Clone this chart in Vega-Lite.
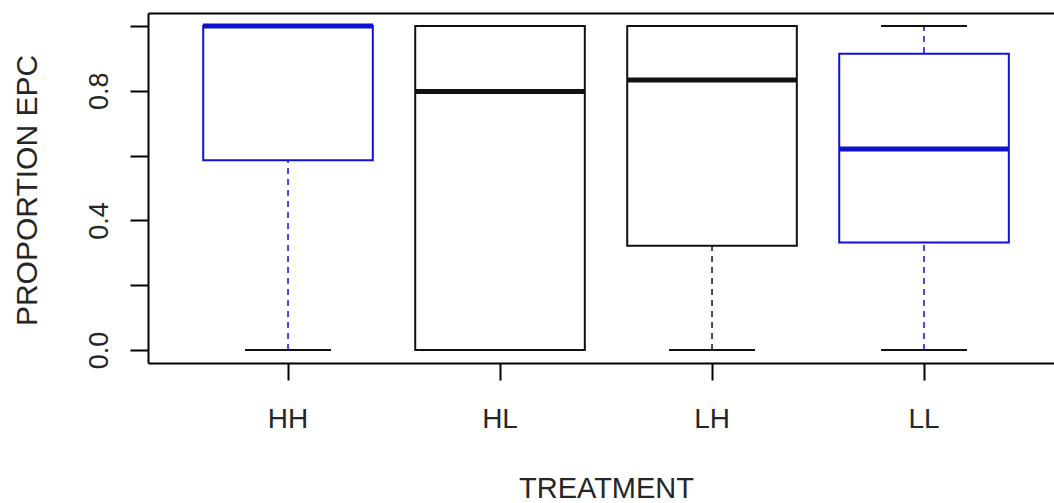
{
  "$schema": "https://vega.github.io/schema/vega-lite/v6.json",
  "width": 906,
  "height": 350,
  "autosize": {"type": "none"},
  "padding": {"left": 148, "top": 13, "right": 0, "bottom": 140},
  "background": "white",
  "data": {
    "values": [
      {"TREATMENT": "HH", "lo": 0, "q1": 0.586, "med": 1.0, "q3": 1.0, "hi": 1.0},
      {"TREATMENT": "HL", "lo": 0, "q1": 0.0, "med": 0.798, "q3": 1.0, "hi": 1.0},
      {"TREATMENT": "LH", "lo": 0, "q1": 0.322, "med": 0.833, "q3": 1.0, "hi": 1.0},
      {"TREATMENT": "LL", "lo": 0, "q1": 0.332, "med": 0.62, "q3": 0.914, "hi": 1.0}
    ]
  },
  "config": {
    "view": {"stroke": null},
    "font": "Liberation Sans",
    "tick": {"opacity": 1},
    "axis": {
      "grid": false,
      "domainColor": "black",
      "domainWidth": 2,
      "tickColor": "black",
      "tickWidth": 2,
      "labelColor": "#262626",
      "titleColor": "#262626",
      "titleFontWeight": "normal"
    }
  },
  "resolve": {"axis": {"x": "independent"}},
  "layer": [
    {
      "mark": {"type": "rule", "strokeDash": [6, 5], "strokeWidth": 1.5},
      "encoding": {
        "x": {
          "field": "TREATMENT",
          "type": "nominal",
          "sort": ["HH", "HL", "LH", "LL"],
          "scale": {"type": "band", "paddingInner": 0.2, "paddingOuter": 0.2368, "align": 0.55},
          "axis": {
            "orient": "bottom",
            "title": "TREATMENT",
            "labelFontSize": 28,
            "labelAngle": 0,
            "labelBaseline": "alphabetic",
            "tickSize": 17,
            "labelPadding": 47,
            "titleFontSize": 29,
            "titleX": 458,
            "titleY": 134,
            "titleAlign": "center",
            "titleBaseline": "alphabetic"
          }
        },
        "y": {
          "field": "lo",
          "type": "quantitative",
          "scale": {"domain": [-0.04, 1.04], "nice": false, "zero": false},
          "axis": {
            "title": "PROPORTION EPC",
            "values": [0, 0.2, 0.4, 0.6, 0.8, 1.0],
            "format": ".1f",
            "labelExpr": "indexof(['0.0','0.4','0.8'], datum.label) >= 0 ? datum.label : ''",
            "tickSize": 18,
            "labelAngle": -90,
            "labelAlign": "center",
            "labelBaseline": "alphabetic",
            "labelPadding": 23,
            "labelFontSize": 27,
            "titleFontSize": 30,
            "titleAngle": -90,
            "titleX": -112,
            "titleY": 177,
            "titleAlign": "center",
            "titleBaseline": "alphabetic"
          }
        },
        "y2": {"field": "hi"},
        "color": {
          "field": "TREATMENT",
          "type": "nominal",
          "scale": {"domain": ["HH", "HL", "LH", "LL"], "range": ["#1010d0", "#111111", "#111111", "#1010d0"]},
          "legend": null
        }
      }
    },
    {
      "mark": {"type": "tick", "size": 86, "thickness": 2, "color": "#111111"},
      "encoding": {
        "x": {"field": "TREATMENT", "type": "nominal", "sort": ["HH", "HL", "LH", "LL"], "axis": null},
        "y": {"field": "lo", "type": "quantitative", "title": "PROPORTION EPC"}
      }
    },
    {
      "mark": {"type": "tick", "size": 86, "thickness": 2, "color": "#111111"},
      "encoding": {
        "x": {"field": "TREATMENT", "type": "nominal", "sort": ["HH", "HL", "LH", "LL"], "axis": null},
        "y": {"field": "hi", "type": "quantitative", "title": "PROPORTION EPC"}
      }
    },
    {
      "mark": {"type": "bar", "fill": "white", "strokeWidth": 2},
      "encoding": {
        "x": {"field": "TREATMENT", "type": "nominal", "sort": ["HH", "HL", "LH", "LL"], "axis": null},
        "y": {"field": "q1", "type": "quantitative", "title": "PROPORTION EPC"},
        "y2": {"field": "q3"},
        "stroke": {
          "field": "TREATMENT",
          "type": "nominal",
          "scale": {"domain": ["HH", "HL", "LH", "LL"], "range": ["#1010d8", "#111111", "#111111", "#1010d8"]},
          "legend": null
        }
      }
    },
    {
      "mark": {"type": "tick", "size": 170, "thickness": 5, "opacity": 1},
      "encoding": {
        "x": {
          "field": "TREATMENT",
          "type": "nominal",
          "sort": ["HH", "HL", "LH", "LL"],
          "axis": {"orient": "top", "labels": false, "ticks": false, "title": null, "domain": true}
        },
        "y": {"field": "med", "type": "quantitative", "title": "PROPORTION EPC"},
        "color": {"field": "TREATMENT", "type": "nominal", "legend": null}
      }
    }
  ]
}
